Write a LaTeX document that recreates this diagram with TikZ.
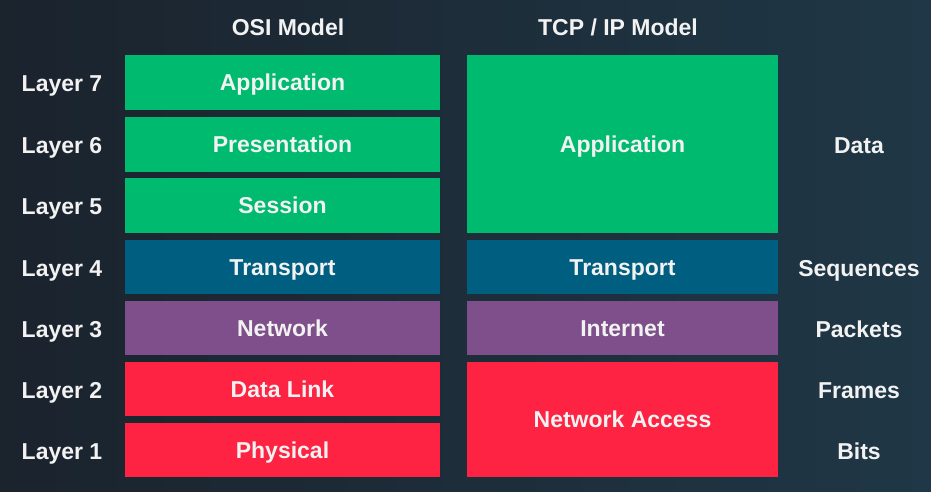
\documentclass[tikz,border=0pt]{standalone}
\usepackage{fontspec}
\setmainfont{Liberation Sans}
\definecolor{bgL}{HTML}{1B232D}
\definecolor{bgR}{HTML}{1F3746}
\definecolor{appg}{HTML}{00BA70}
\definecolor{trb}{HTML}{005E80}
\definecolor{netp}{HTML}{7E4F8A}
\definecolor{phr}{HTML}{FF2343}
\definecolor{txt}{HTML}{F2F2F2}
\begin{document}
\begin{tikzpicture}[x=1pt,y=-1pt,
  lay/.style={text=txt,font=\fontsize{23}{26}\selectfont\bfseries,inner sep=0pt,text height=16.5pt,text depth=0pt},
  blk/.style={draw=none,inner sep=0pt,text=txt,font=\fontsize{23}{26}\selectfont\bfseries,text height=16.5pt,text depth=0pt}]
\shade[left color=bgL,right color=bgR] (0,0) rectangle (931,492);
\useasboundingbox (0,0) rectangle (931,492);
% headers
\node[lay] (hosi) at (288,27) {OSI Model};
\node[lay] (htcp) at (618,27) {TCP / IP Model};
% OSI boxes
\fill[appg] (125,55) rectangle (440,110) node[blk,midway] (o7) {Application};
\fill[appg] (125,117) rectangle (440,172) node[blk,midway] (o6) {Presentation};
\fill[appg] (125,178) rectangle (440,233) node[blk,midway] (o5) {Session};
\fill[trb] (125,240) rectangle (440,294) node[blk,midway] (o4) {Transport};
\fill[netp] (125,301) rectangle (440,355) node[blk,midway] (o3) {Network};
\fill[phr] (125,362) rectangle (440,416) node[blk,midway] (o2) {Data Link};
\fill[phr] (125,423) rectangle (440,477) node[blk,midway] (o1) {Physical};
% TCP/IP boxes
\fill[appg] (467,55) rectangle (778,233) node[blk,midway] (t4) {Application};
\fill[trb] (467,240) rectangle (778,294) node[blk,midway] (t3) {Transport};
\fill[netp] (467,301) rectangle (778,355) node[blk,midway] (t2) {Internet};
\fill[phr] (467,362) rectangle (778,477) node[blk,midway] (t1) {Network Access};
% layer labels
\node[lay] (l7) at (62,83) {Layer 7};
\node[lay] (l6) at (62,145) {Layer 6};
\node[lay] (l5) at (62,206) {Layer 5};
\node[lay] (l4) at (62,268) {Layer 4};
\node[lay] (l3) at (62,329) {Layer 3};
\node[lay] (l2) at (62,390) {Layer 2};
\node[lay] (l1) at (62,451) {Layer 1};
% PDU labels
\node[lay] (d) at (859,145) {Data};
\node[lay] (sq) at (859,268) {Sequences};
\node[lay] (pk) at (859,329) {Packets};
\node[lay] (fr) at (859,390) {Frames};
\node[lay] (bt) at (859,451) {Bits};
\end{tikzpicture}
\end{document}
